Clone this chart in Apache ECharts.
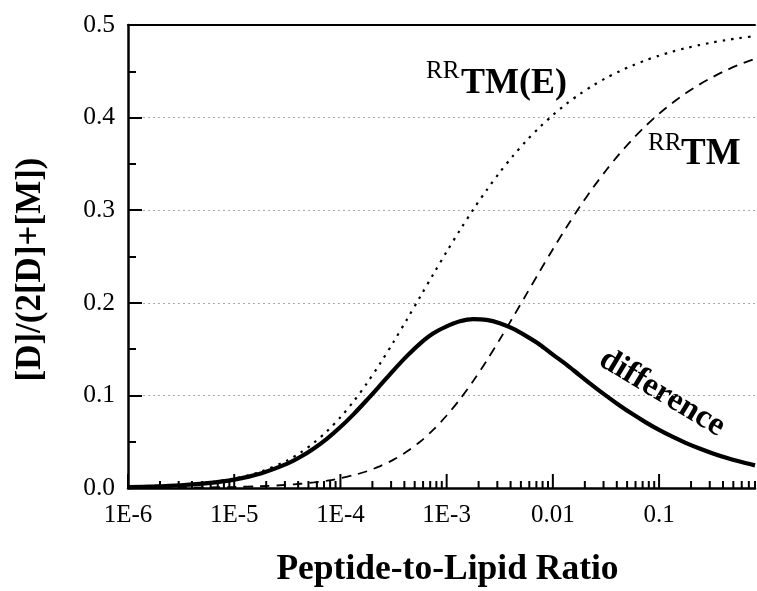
<!DOCTYPE html>
<html>
<head>
<meta charset="utf-8">
<script src="https://cdn.jsdelivr.net/npm/echarts@6/dist/echarts.min.js"></script>
<style>html,body{margin:0;padding:0;background:#fff}#c{width:757px;height:591px}</style>
</head>
<body>
<div id="c"></div>
<script>
// Peptide-to-lipid ratio (x, log scale)
const ratio = [1e-6, 1.778e-6, 3.162e-6, 5.623e-6, 1e-5, 1.778e-5, 3.162e-5, 4.217e-5, 5.623e-5, 7.499e-5,
  1e-4, 1.334e-4, 1.778e-4, 2.371e-4, 3.162e-4, 4.217e-4, 5.623e-4, 7.499e-4,
  1e-3, 1.334e-3, 1.778e-3, 2.371e-3, 3.162e-3, 4.217e-3, 5.623e-3, 7.499e-3,
  0.01, 0.01334, 0.01778, 0.02371, 0.03162, 0.04217, 0.05623, 0.07499,
  0.1, 0.1334, 0.1778, 0.2371, 0.3162, 0.4217, 0.5623, 0.8];
// RRTM(E) (dotted)
const rrtmE = [0.0011, 0.0019, 0.0033, 0.0058, 0.0102, 0.0176, 0.0298, 0.0383, 0.0488, 0.0614,
  0.0764, 0.0937, 0.1132, 0.1347, 0.1577, 0.1818, 0.2064, 0.2310,
  0.2552, 0.2785, 0.3007, 0.3215, 0.3409, 0.3587, 0.3749, 0.3895,
  0.4027, 0.4146, 0.4251, 0.4344, 0.4427, 0.4499, 0.4563, 0.4620,
  0.4669, 0.4712, 0.4750, 0.4782, 0.4811, 0.4836, 0.4858, 0.4880];
// RRTM (dashed)
const rrtm = [0.0001, 0.0002, 0.0003, 0.0006, 0.0011, 0.0019, 0.0034, 0.0046, 0.0060, 0.0080,
  0.0105, 0.0139, 0.0181, 0.0237, 0.0306, 0.0393, 0.0500, 0.0630,
  0.0783, 0.0958, 0.1155, 0.1372, 0.1604, 0.1845, 0.2091, 0.2337,
  0.2579, 0.2810, 0.3031, 0.3238, 0.3429, 0.3606, 0.3766, 0.3911,
  0.4042, 0.4158, 0.4262, 0.4354, 0.4435, 0.4507, 0.4570, 0.4636];
// difference (solid)
const difference = [0.0010, 0.0017, 0.0030, 0.0052, 0.0091, 0.0157, 0.0263, 0.0337, 0.0427, 0.0534,
  0.0658, 0.0798, 0.0951, 0.1110, 0.1271, 0.1424, 0.1560, 0.1670,
  0.1745, 0.1800, 0.1824, 0.1816, 0.1780, 0.1720, 0.1640, 0.1550,
  0.1440, 0.1335, 0.1220, 0.1106, 0.0997, 0.0894, 0.0798, 0.0709,
  0.0627, 0.0554, 0.0488, 0.0429, 0.0376, 0.0329, 0.0288, 0.0244];

const xTickLabels = {'-6':'1E-6','-5':'1E-5','-4':'1E-4','-3':'1E-3','-2':'0.01','-1':'0.1'};
const xMajorTicks = [1e-6, 1e-5, 1e-4, 1e-3, 0.01, 0.1];
const xMinorTicks = [];
for (const d of xMajorTicks) for (let m = 2; m <= 9; m++) { const v = d * m; if (v <= 0.8) xMinorTicks.push(v); }

const FONT = '"Liberation Serif", "Times New Roman", serif';
const chart = echarts.init(document.getElementById('c'), null, {renderer: 'canvas'});

function tickSeries(vals, len) {
  return {
    type: 'custom', silent: true, z: 10, clip: false,
    data: vals.map(v => [v, 0]),
    renderItem: function (params, api) {
      const p = api.coord([api.value(0), 0]);
      return {type: 'line', shape: {x1: p[0], y1: p[1], x2: p[0], y2: p[1] - len},
        style: {stroke: '#000', lineWidth: 2}};
    }
  };
}

const seriesData = (ys) => ratio.map((x, i) => [x, ys[i]]);

chart.setOption({
  animation: false,
  backgroundColor: '#fff',
  grid: {left: 128, right: 2, top: 25, bottom: 103, containLabel: false, outerBoundsMode: 'none'},
  xAxis: [{
    type: 'log', logBase: 10, min: 1e-6, max: 0.8,
    axisLine: {show: true, lineStyle: {color: '#000', width: 2.5}},
    axisTick: {show: false},
    splitLine: {show: false},
    axisLabel: {
      margin: 15, color: '#000', fontFamily: FONT, fontSize: 25,
      formatter: function (v) {
        const k = Math.round(Math.log10(v));
        if (Math.abs(Math.log10(v) - k) > 1e-6) return '';
        return xTickLabels[String(k)] || '';
      }
    },
    name: 'Peptide-to-Lipid Ratio', nameLocation: 'middle', nameGap: 64,
    nameTextStyle: {color: '#000', fontFamily: FONT, fontSize: 35.5, fontWeight: 'bold', padding: [0, 0, 0, 12]}
  }, {
    type: 'log', logBase: 10, min: 1e-6, max: 0.8, position: 'top',
    axisLine: {show: true, onZero: false, lineStyle: {color: '#000', width: 2}},
    axisTick: {show: false}, axisLabel: {show: false}, splitLine: {show: false}
  }],
  yAxis: {
    type: 'value', min: 0, max: 0.5, interval: 0.1,
    axisLine: {show: true, lineStyle: {color: '#000', width: 2.5}},
    axisTick: {show: true, inside: true, length: 14, lineStyle: {color: '#000', width: 2}},
    minorTick: {show: true, splitNumber: 2, length: 8, lineStyle: {color: '#000', width: 2}},
    splitLine: {show: true, lineStyle: {color: '#aaa', width: 1, type: [2, 3]}},
    axisLabel: {margin: 13, color: '#000', fontFamily: FONT, fontSize: 25.5,
      formatter: v => v.toFixed(1)},
    name: '[D]/(2[D]+[M])', nameLocation: 'middle', nameGap: 80,
    nameTextStyle: {color: '#000', fontFamily: FONT, fontSize: 35, fontWeight: 'bold', padding: [0, 26, 0, 0]}
  },
  series: [
    {type: 'line', name: 'RRTM(E)', data: seriesData(rrtmE), smooth: 0.3, symbol: 'none',
      lineStyle: {color: '#000', width: 2.2, type: [2.5, 6]}},
    {type: 'line', name: 'RRTM', data: seriesData(rrtm), smooth: 0.3, symbol: 'none',
      lineStyle: {color: '#000', width: 1.8, type: [9.5, 7]}},
    {type: 'line', name: 'difference', data: seriesData(difference), smooth: 0.3, symbol: 'none',
      lineStyle: {color: '#000', width: 4.2}},
    tickSeries(xMajorTicks, 14),
    tickSeries(xMinorTicks, 7)
  ],
  graphic: [
    {type: 'text', x: 426, y: 71, style: {text: 'RR', fontFamily: FONT, fontSize: 25, fill: '#000', align: 'left', verticalAlign: 'middle'}},
    {type: 'text', x: 461, y: 84, style: {text: 'TM(E)', fontFamily: FONT, fontSize: 36, fontWeight: 'bold', fill: '#000', align: 'left', verticalAlign: 'middle'}},
    {type: 'text', x: 648, y: 143, style: {text: 'RR', fontFamily: FONT, fontSize: 25, fill: '#000', align: 'left', verticalAlign: 'middle'}},
    {type: 'text', x: 681, y: 154, style: {text: 'TM', fontFamily: FONT, fontSize: 37, fontWeight: 'bold', fill: '#000', align: 'left', verticalAlign: 'middle'}},
    {type: 'text', x: 662, y: 393, rotation: -31 * Math.PI / 180,
      style: {text: 'difference', fontFamily: FONT, fontSize: 33, fontWeight: 'bold', fill: '#000', align: 'center', verticalAlign: 'middle'}}
  ]
});
</script>
</body>
</html>
